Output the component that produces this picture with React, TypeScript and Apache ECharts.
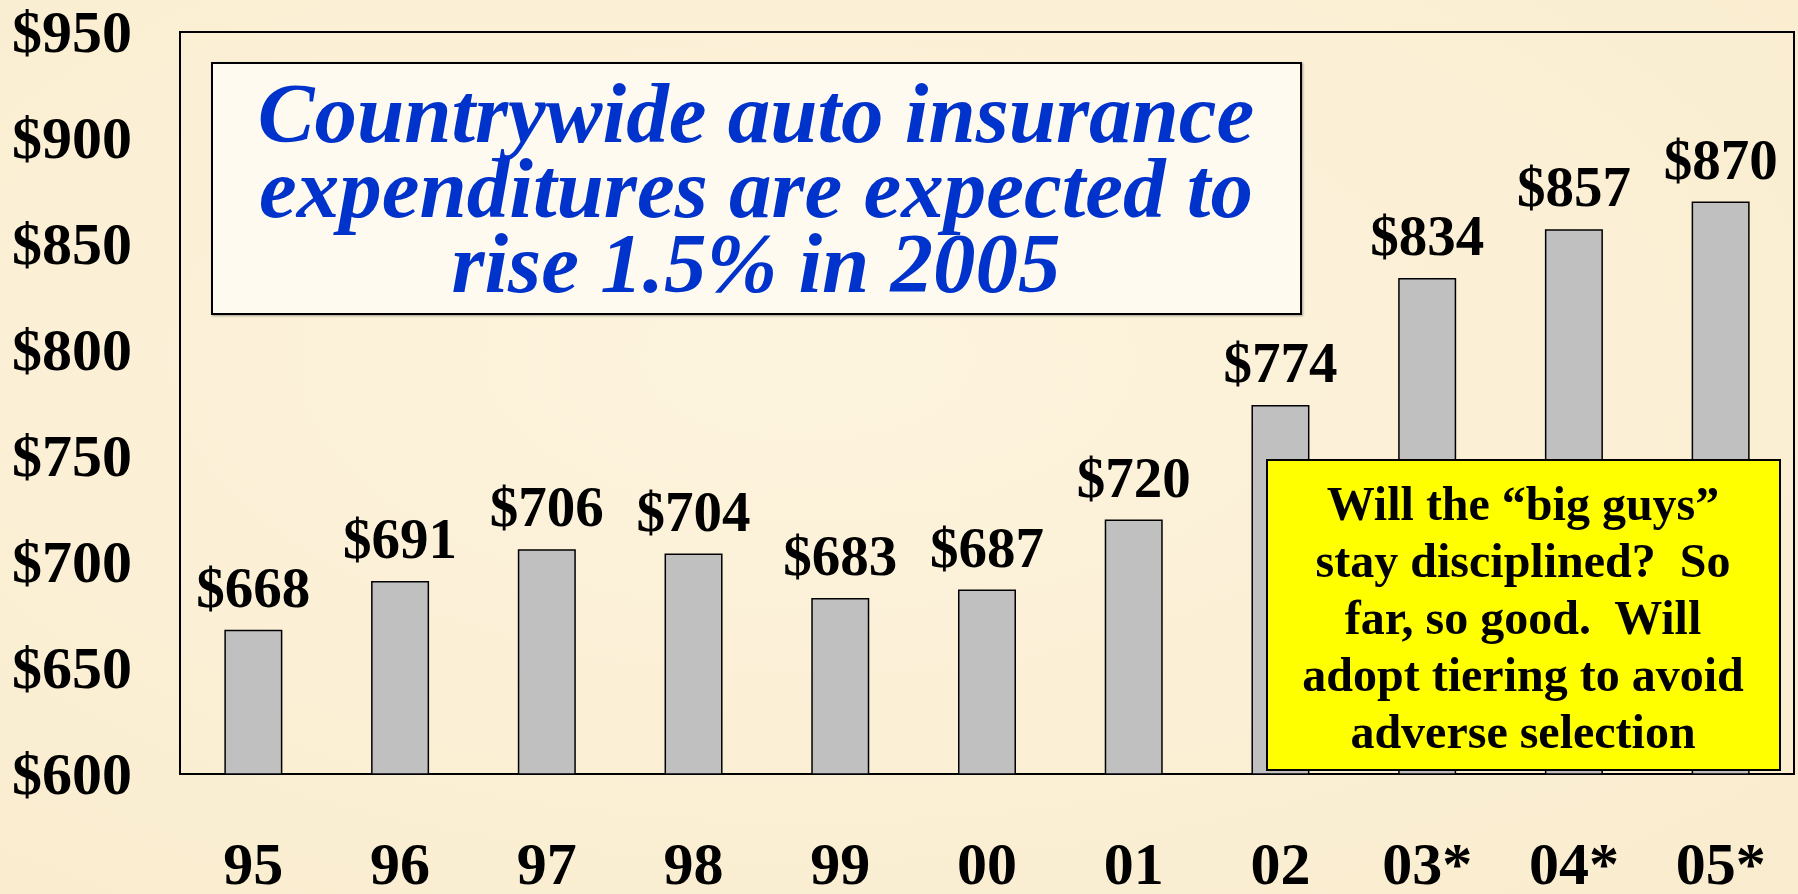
import React, { useEffect, useRef } from "react";
import * as echarts from "echarts";

const categories = ["95", "96", "97", "98", "99", "00", "01", "02", "03*", "04*", "05*"];
const expenditures = [668, 691, 706, 704, 683, 687, 720, 774, 834, 857, 870];
const yMin = 600;
const yMax = 950;
const yStep = 50;
const titleLines = [
  "Countrywide auto insurance",
  "expenditures are expected to",
  "rise 1.5% in 2005",
];
const noteLines = [
  "Will the \u201cbig guys\u201d",
  "stay disciplined?  So",
  "far, so good.  Will",
  "adopt tiering to avoid",
  "adverse selection",
];

const FONT = '"Liberation Serif", "Times New Roman", serif';

export default function App() {
  const ref = useRef<HTMLDivElement>(null);

  useEffect(() => {
    if (!ref.current) return;
    const chart = echarts.init(ref.current, undefined, {
      renderer: "svg",
      width: 1798,
      height: 894,
    });
    chart.setOption({
      animation: false,
      backgroundColor: {
        type: "radial",
        x: 0.45,
        y: 0.4,
        r: 0.9,
        colorStops: [
          { offset: 0, color: "#fdf4de" },
          { offset: 1, color: "#f9ebcc" },
        ],
      },
      grid: {
        left: 180,
        top: 32,
        width: 1614,
        height: 748,
        show: true,
        borderColor: "#000",
        borderWidth: 2,
        backgroundColor: "rgba(0,0,0,0)",
        containLabel: false,
      },
      xAxis: {
        type: "category",
        data: categories,
        axisLine: { show: true, lineStyle: { color: "#000", width: 2 } },
        axisTick: { show: false },
        axisLabel: {
          color: "#000",
          fontFamily: FONT,
          fontWeight: "bold",
          fontSize: 60,
          margin: 60,
        },
      },
      yAxis: {
        type: "value",
        min: yMin,
        max: yMax,
        interval: yStep,
        splitLine: { show: false },
        axisLine: { show: true, lineStyle: { color: "#000", width: 2 } },
        axisTick: { show: false },
        axisLabel: {
          color: "#000",
          fontFamily: FONT,
          fontWeight: "bold",
          fontSize: 60,
          margin: 48,
          formatter: (v: number) => "$" + v,
        },
      },
      series: [
        {
          type: "bar",
          data: expenditures,
          barWidth: 58,
          itemStyle: { color: "#c0c0c0", borderColor: "#000", borderWidth: 1.5 },
          label: {
            show: true,
            position: "top",
            distance: 14,
            color: "#000",
            fontFamily: FONT,
            fontWeight: "bold",
            fontSize: 57,
            formatter: (p: any) => "$" + p.value,
          },
        },
      ],
      graphic: [
        {
          type: "rect",
          z: 100,
          shape: { x: 212, y: 63, width: 1089, height: 251 },
          style: {
            fill: "#fffaef",
            stroke: "#000",
            lineWidth: 2,
            shadowColor: "rgba(0,0,0,0.35)",
            shadowBlur: 2,
            shadowOffsetX: 1,
            shadowOffsetY: 1,
          },
        },
        {
          type: "text",
          z: 101,
          x: 756,
          y: 188,
          style: {
            text: titleLines.join("\n"),
            fill: "#0033cc",
            font: 'italic bold 85px ' + FONT,
            align: "center",
            verticalAlign: "middle",
            lineHeight: 75,
          },
        },
        {
          type: "rect",
          z: 100,
          shape: { x: 1267, y: 460, width: 513, height: 310 },
          style: { fill: "#ffff00", stroke: "#000", lineWidth: 2 },
        },
        {
          type: "text",
          z: 101,
          x: 1523,
          y: 617,
          style: {
            text: noteLines.join("\n"),
            fill: "#000",
            font: 'bold 48px ' + FONT,
            align: "center",
            verticalAlign: "middle",
            lineHeight: 57,
          },
        },
      ],
    });
    return () => chart.dispose();
  }, []);

  return (
    <div
      ref={ref}
      style={{ position: "fixed", left: 0, top: 0, width: 1798, height: 894 }}
    />
  );
}
